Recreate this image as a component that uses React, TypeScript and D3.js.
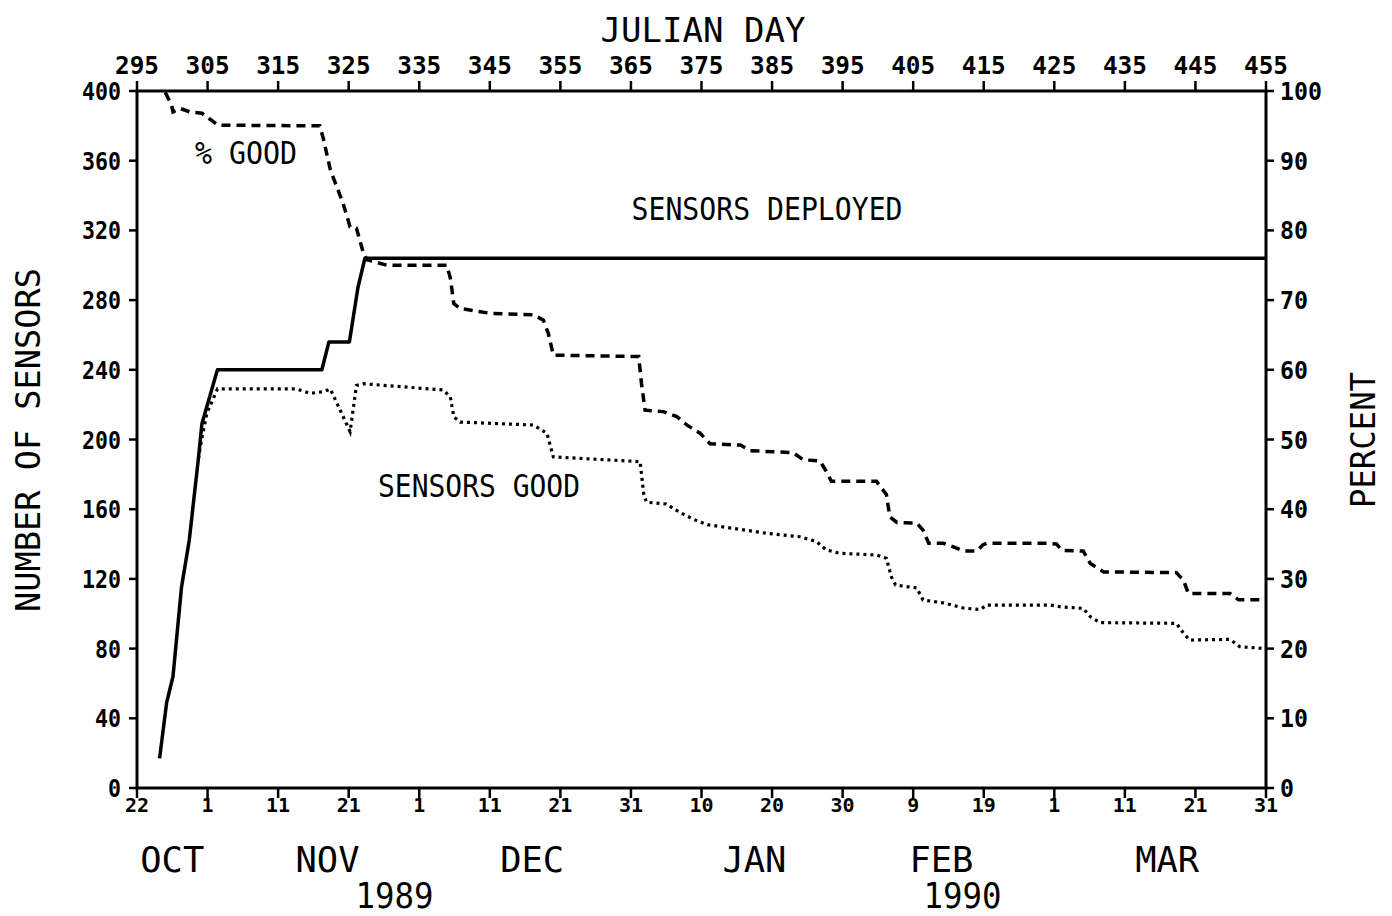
import React from "react";
import * as d3 from "d3";

// ---- Data ----
const julianTicks = [295, 305, 315, 325, 335, 345, 355, 365, 375, 385, 395, 405, 415, 425, 435, 445, 455];
const dateTickLabels = ["22", "1", "11", "21", "1", "11", "21", "31", "10", "20", "30", "9", "19", "1", "11", "21", "31"];
const monthLabels = ["OCT", "NOV", "DEC", "JAN", "FEB", "MAR"];
const monthCenters = [300, 322, 351, 382.5, 409, 441]; // julian day positions of month names
const yearLabels = ["1989", "1990"];
const yearCenters = [331.5, 412];
const leftTicks = [0, 40, 80, 120, 160, 200, 240, 280, 320, 360, 400];
const rightTicks = [0, 10, 20, 30, 40, 50, 60, 70, 80, 90, 100];

// Sensors deployed (solid)
const deployedDays = [298.2, 299.2, 300.1, 301.3, 302.4, 303.7, 304.2, 306.4, 321.2, 322.2, 325.1, 326.3, 327.3, 455];
const deployedVals = [17, 49, 64, 115, 142, 189, 209, 240, 240, 256, 256, 287, 304, 304];

// Sensors good (dotted)
const goodDays = [303.7, 304.2, 304.9, 306.4, 317.6, 319.5, 321.4, 322.4, 325.2, 326.1, 327.1, 338.4, 339.4, 339.9, 340.8, 351.2, 353.1, 354.0, 366.3, 366.8, 367.2, 370, 372, 374.5, 376, 379.5, 384.2, 388.9, 391.3, 392.7, 394.6, 399.8, 401.2, 401.9, 402.5, 405.5, 406.4, 409.3, 412.1, 414.5, 415.4, 424.4, 425.8, 429.1, 430.1, 431.5, 442.3, 443.3, 444.2, 449.9, 451.3, 455];
const goodVals = [189, 201, 215, 229, 229, 226.5, 227.4, 229, 204.5, 231, 232, 228.4, 224.5, 213, 210, 208.3, 203.5, 190, 187.3, 169, 164, 163, 158, 153, 151, 149, 146.2, 144.2, 141.4, 136.6, 134.7, 133.7, 131.8, 121.3, 116.5, 114.8, 107.9, 106.2, 103.3, 102.4, 105, 105, 104, 103.1, 98.3, 94.9, 94.5, 88.8, 84.9, 85.3, 81.1, 80];

// % good (dashed, percent)
const pctDays = [299.0, 299.9, 300.1, 301.1, 302.5, 304.2, 306.5, 320.9, 321.4, 322.4, 324.2, 325.2, 326.1, 327.1, 327.6, 330.4, 338.9, 339.4, 339.9, 340.8, 345.1, 351.2, 352.6, 353.3, 354.0, 366.1, 366.5, 367.0, 369.6, 371.5, 372.9, 374.8, 376.2, 380.5, 381.9, 388, 389.4, 391.8, 392.7, 393.4, 399.8, 401.2, 401.7, 402.7, 405.5, 406.4, 407.2, 409.3, 410.7, 412.1, 414, 414.9, 415.4, 423.9, 425.3, 426.1, 429.1, 430.1, 432, 442.3, 443.3, 444, 449.9, 451.1, 455];
const pctVals = [99.8, 98, 97, 97.5, 97, 96.8, 95.1, 95, 93.2, 88.7, 83.9, 80.5, 80.3, 76.7, 75.8, 75, 75, 73.2, 69.5, 68.8, 68.1, 67.9, 67.1, 65.2, 62.1, 61.9, 58, 54.2, 54, 53.3, 52.1, 50.9, 49.4, 49.2, 48.4, 48.1, 47.1, 46.9, 45.4, 44, 44, 42.1, 38.9, 38.1, 38, 37, 35.1, 35.1, 34.6, 34, 34, 34.9, 35.1, 35.1, 35, 34.1, 34, 32.2, 31, 30.9, 29.8, 27.9, 27.9, 27, 27];

const FONT = "'DejaVu Sans Mono', 'Liberation Mono', monospace";

export default function App() {
  const W = 1392, H = 916;
  const left = 137, right = 1266, top = 91, bottom = 788;
  const x = d3.scaleLinear().domain([295, 455]).range([left, right]);
  const yL = d3.scaleLinear().domain([0, 400]).range([bottom, top]);
  const yR = d3.scaleLinear().domain([0, 100]).range([bottom, top]);

  const line = d3.line<[number, number]>().x((d) => x(d[0])).y((d) => d[1]);
  const deployed = deployedDays.map((d, i) => [d, yL(deployedVals[i])] as [number, number]);
  const good = goodDays.map((d, i) => [d, yL(goodVals[i])] as [number, number]);
  const pct = pctDays.map((d, i) => [d, yR(pctVals[i])] as [number, number]);

  return (
    <svg width={W} height={H} style={{ position: "absolute", left: 0, top: 0, background: "#fff" }} fontFamily={FONT}>
      <rect x={0} y={0} width={W} height={H} fill="#fff" />
      {/* frame */}
      <rect x={left} y={top} width={right - left} height={bottom - top} fill="none" stroke="#000" strokeWidth={3} />

      {/* top ticks and labels */}
      {julianTicks.map((t) => (
        <g key={"jt" + t}>
          <line x1={x(t)} x2={x(t)} y1={top} y2={top - 10} stroke="#000" strokeWidth={2.5} />
          <text x={x(t)} y={74} fontSize={25} fontWeight="bold" textAnchor="middle" fill="#000" textLength={44} lengthAdjust="spacingAndGlyphs">{t}</text>
        </g>
      ))}
      {/* bottom ticks and labels */}
      {julianTicks.map((t, i) => (
        <g key={"bt" + t}>
          <line x1={x(t)} x2={x(t)} y1={bottom} y2={bottom + 10} stroke="#000" strokeWidth={2.5} />
          <text x={x(t)} y={812} fontSize={20} fontWeight="bold" textAnchor="middle" fill="#000">{dateTickLabels[i]}</text>
        </g>
      ))}
      {monthLabels.map((m, i) => (
        <text key={m} x={x(monthCenters[i])} y={872} fontSize={36} textAnchor="middle" fill="#000" textLength={64} lengthAdjust="spacingAndGlyphs">{m}</text>
      ))}
      {yearLabels.map((m, i) => (
        <text key={m} x={x(yearCenters[i])} y={908} fontSize={35} textAnchor="middle" fill="#000" textLength={78} lengthAdjust="spacingAndGlyphs">{m}</text>
      ))}

      {/* left ticks */}
      {leftTicks.map((t) => (
        <g key={"lt" + t}>
          <line x1={left} x2={left - 8} y1={yL(t)} y2={yL(t)} stroke="#000" strokeWidth={2.5} />
          <text x={121} y={yL(t) + 9} fontSize={25} fontWeight="bold" textAnchor="end" fill="#000" textLength={String(t).length * 13} lengthAdjust="spacingAndGlyphs">{t}</text>
        </g>
      ))}
      {/* right ticks */}
      {rightTicks.map((t) => (
        <g key={"rt" + t}>
          <line x1={right} x2={right + 8} y1={yR(t)} y2={yR(t)} stroke="#000" strokeWidth={2.5} />
          <text x={1280} y={yR(t) + 9} fontSize={25} fontWeight="bold" textAnchor="start" fill="#000" textLength={String(t).length * 14} lengthAdjust="spacingAndGlyphs">{t}</text>
        </g>
      ))}

      {/* axis titles */}
      <text x={703} y={42} fontSize={34} textAnchor="middle" fill="#000" textLength={205} lengthAdjust="spacingAndGlyphs">JULIAN DAY</text>
      <text transform="translate(40,440) rotate(-90)" fontSize={34} textAnchor="middle" fill="#000" textLength={344} lengthAdjust="spacingAndGlyphs">NUMBER OF SENSORS</text>
      <text transform="translate(1375,440) rotate(-90)" fontSize={34} textAnchor="middle" fill="#000" textLength={136} lengthAdjust="spacingAndGlyphs">PERCENT</text>

      {/* series */}
      <path d={line(deployed) || ""} fill="none" stroke="#000" strokeWidth={3.5} strokeLinejoin="round" />
      <path d={line(good) || ""} fill="none" stroke="#000" strokeWidth={3.2} strokeDasharray="3,4" />
      <path d={line(pct) || ""} fill="none" stroke="#000" strokeWidth={3.5} strokeDasharray="9,6" />

      {/* annotations */}
      <text x={246} y={164} fontSize={32} textAnchor="middle" fill="#000" textLength={102} lengthAdjust="spacingAndGlyphs">% GOOD</text>
      <text x={767} y={220} fontSize={32} textAnchor="middle" fill="#000" textLength={271} lengthAdjust="spacingAndGlyphs">SENSORS DEPLOYED</text>
      <text x={479} y={497} fontSize={32} textAnchor="middle" fill="#000" textLength={202} lengthAdjust="spacingAndGlyphs">SENSORS GOOD</text>
    </svg>
  );
}
